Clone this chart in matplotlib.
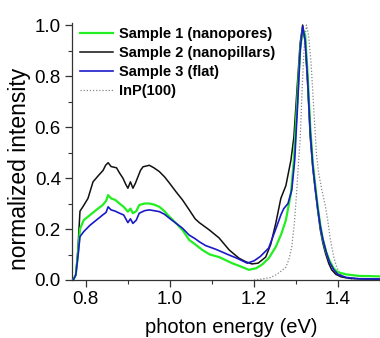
import matplotlib
matplotlib.use("Agg")
import matplotlib.pyplot as plt
from matplotlib.ticker import MultipleLocator

plt.rcParams['font.family'] = ['Liberation Sans', 'DejaVu Sans']

# Sample 2 (nanopillars) - black
e2 = [0.770, 0.776, 0.781, 0.786, 0.794, 0.805, 0.817, 0.830, 0.841, 0.847, 0.853, 0.860, 0.873,
      0.880, 0.888, 0.895, 0.900, 0.906, 0.912, 0.918, 0.924, 0.930, 0.936, 0.951, 0.962,
      0.975, 0.987, 0.999, 1.015, 1.030, 1.046, 1.060, 1.070, 1.094, 1.117, 1.141, 1.164,
      1.180, 1.195, 1.210, 1.228, 1.240, 1.252, 1.264, 1.276, 1.288, 1.295, 1.303, 1.310,
      1.316, 1.322, 1.328, 1.334, 1.340, 1.346, 1.352, 1.358, 1.364, 1.370, 1.378, 1.385,
      1.395, 1.408, 1.430, 1.460, 1.500]
i2 = [0.00, 0.02, 0.12, 0.27, 0.29, 0.32, 0.385, 0.41, 0.43, 0.45, 0.46, 0.445, 0.44,
      0.42, 0.40, 0.375, 0.36, 0.385, 0.36, 0.38, 0.405, 0.43, 0.444, 0.45, 0.44,
      0.425, 0.405, 0.38, 0.345, 0.314, 0.275, 0.240, 0.225, 0.196, 0.165, 0.118, 0.086,
      0.072, 0.063, 0.066, 0.090, 0.140, 0.223, 0.320, 0.370, 0.470, 0.560, 0.760, 0.930,
      1.000, 0.930, 0.760, 0.560, 0.440, 0.353, 0.270, 0.196, 0.145, 0.106, 0.065, 0.040,
      0.022, 0.012, 0.006, 0.004, 0.003]

# Sample 1 (nanopores) - green
e1 = [0.770, 0.776, 0.781, 0.786, 0.795, 0.810, 0.825, 0.840, 0.848, 0.853, 0.860, 0.870,
      0.880, 0.890, 0.900, 0.906, 0.912, 0.920, 0.927, 0.940, 0.951, 0.962, 0.975, 0.987,
      0.999, 1.015, 1.030, 1.046, 1.060, 1.077, 1.095, 1.117, 1.148, 1.170, 1.188, 1.205,
      1.219, 1.235, 1.252, 1.265, 1.276, 1.288, 1.295, 1.303, 1.310, 1.316, 1.322, 1.328,
      1.334, 1.340, 1.346, 1.352, 1.358, 1.364, 1.372, 1.380, 1.390, 1.400, 1.420, 1.450,
      1.480, 1.500]
i1 = [0.00, 0.02, 0.10, 0.20, 0.235, 0.255, 0.275, 0.294, 0.31, 0.333, 0.320, 0.314,
      0.300, 0.287, 0.268, 0.280, 0.262, 0.270, 0.294, 0.300, 0.300, 0.296, 0.287, 0.270,
      0.248, 0.222, 0.196, 0.157, 0.140, 0.118, 0.100, 0.090, 0.066, 0.052, 0.040, 0.046,
      0.060, 0.085, 0.130, 0.180, 0.235, 0.340, 0.470, 0.700, 0.900, 0.985, 0.960, 0.800,
      0.600, 0.460, 0.370, 0.285, 0.215, 0.160, 0.110, 0.075, 0.045, 0.030, 0.022, 0.016,
      0.015, 0.014]

# Sample 3 (flat) - blue
e3 = [0.770, 0.776, 0.781, 0.786, 0.795, 0.810, 0.825, 0.840, 0.848, 0.853, 0.860, 0.870,
      0.880, 0.890, 0.900, 0.906, 0.912, 0.920, 0.927, 0.940, 0.951, 0.962, 0.975, 0.987,
      0.999, 1.015, 1.030, 1.046, 1.060, 1.070, 1.085, 1.110, 1.138, 1.160, 1.184, 1.200,
      1.215, 1.235, 1.254, 1.264, 1.271, 1.281, 1.290, 1.297, 1.304, 1.310, 1.316, 1.322,
      1.328, 1.334, 1.340, 1.346, 1.352, 1.358, 1.364, 1.372, 1.380, 1.390, 1.400, 1.420,
      1.450, 1.500]
i3 = [0.00, 0.02, 0.09, 0.17, 0.19, 0.215, 0.235, 0.255, 0.265, 0.287, 0.275, 0.270,
      0.262, 0.255, 0.225, 0.240, 0.222, 0.235, 0.262, 0.272, 0.275, 0.272, 0.268, 0.258,
      0.242, 0.222, 0.203, 0.176, 0.162, 0.150, 0.135, 0.120, 0.100, 0.085, 0.066, 0.075,
      0.092, 0.125, 0.209, 0.255, 0.280, 0.300, 0.353, 0.470, 0.690, 0.900, 0.995, 0.940,
      0.780, 0.580, 0.450, 0.360, 0.280, 0.210, 0.160, 0.110, 0.070, 0.040, 0.022, 0.010,
      0.005, 0.004]

# InP(100) reference - dotted gray
e4 = [1.200, 1.220, 1.240, 1.252, 1.265, 1.276, 1.283, 1.290, 1.296, 1.302, 1.306, 1.310,
      1.315, 1.320, 1.325, 1.330, 1.336, 1.342, 1.349, 1.354, 1.362, 1.370, 1.376, 1.382,
      1.390, 1.397, 1.405, 1.412, 1.430, 1.460, 1.500]
i4 = [0.000, 0.004, 0.010, 0.020, 0.035, 0.050, 0.080, 0.130, 0.220, 0.353, 0.460, 0.550,
      0.760, 0.930, 1.000, 0.960, 0.850, 0.680, 0.490, 0.420, 0.350, 0.290, 0.230, 0.157,
      0.090, 0.050, 0.025, 0.010, 0.004, 0.002, 0.001]

W, H = 380, 338
fig = plt.figure(figsize=(W / 100, H / 100), dpi=100)
ax = fig.add_axes([72 / W, 1 - 280 / H, 1 - 72 / W, (280 - 23) / H])

ax.plot(e1, i1, color='#22ee22', lw=1.6, label='Sample 1 (nanopores)', zorder=3)
ax.plot(e2, i2, color='#111111', lw=1.1, label='Sample 2 (nanopillars)', zorder=2)
ax.plot(e3, i3, color='#1a1ac8', lw=1.2, label='Sample 3 (flat)', zorder=4)
ax.plot(e4, i4, color='#888888', lw=0.9, ls=(0, (1, 1.5)), label='InP(100)', zorder=1)

ax.set_xlim(0.767, 1.50)
ax.set_ylim(0.0, 1.008)
ax.xaxis.set_minor_locator(MultipleLocator(0.1))
ax.yaxis.set_minor_locator(MultipleLocator(0.1))
ax.set_xticks([0.8, 1.0, 1.2, 1.4])
ax.set_xticklabels(['0.8', '1.0', '1.2', '1.4'])
ax.set_yticks([0.0, 0.2, 0.4, 0.6, 0.8, 1.0])
ax.set_yticklabels(['0.0', '0.2', '0.4', '0.6', '0.8', '1.0'])

for s in ['top', 'right']:
    ax.spines[s].set_visible(False)
for s in ['left', 'bottom']:
    ax.spines[s].set_color('#333333')
    ax.spines[s].set_linewidth(0.9)
ax.tick_params(which='major', direction='out', length=5, width=0.9, labelsize=13.5,
               color='#333333', pad=3)
ax.tick_params(which='minor', direction='out', length=3, width=0.8, color='#333333')

ax.set_xlabel('photon energy (eV)', fontsize=14.5)
ax.xaxis.set_label_coords((231 - 72) / 308, (280 - 318) / 257)
ax.set_ylabel('normalized intensity', fontsize=16.5, va='center')
ax.yaxis.set_label_coords((20 - 72) / 308, (280 - 169) / 257)

leg = ax.legend(loc='upper left', bbox_to_anchor=(4 / W, 1.0), bbox_transform=ax.transAxes,
                frameon=False, prop={'weight': 'bold', 'size': 10.5}, handlelength=2.3,
                handletextpad=0.4, labelspacing=0.33, borderaxespad=0.2, borderpad=0.1)

fig.savefig('out.png', dpi=100)
